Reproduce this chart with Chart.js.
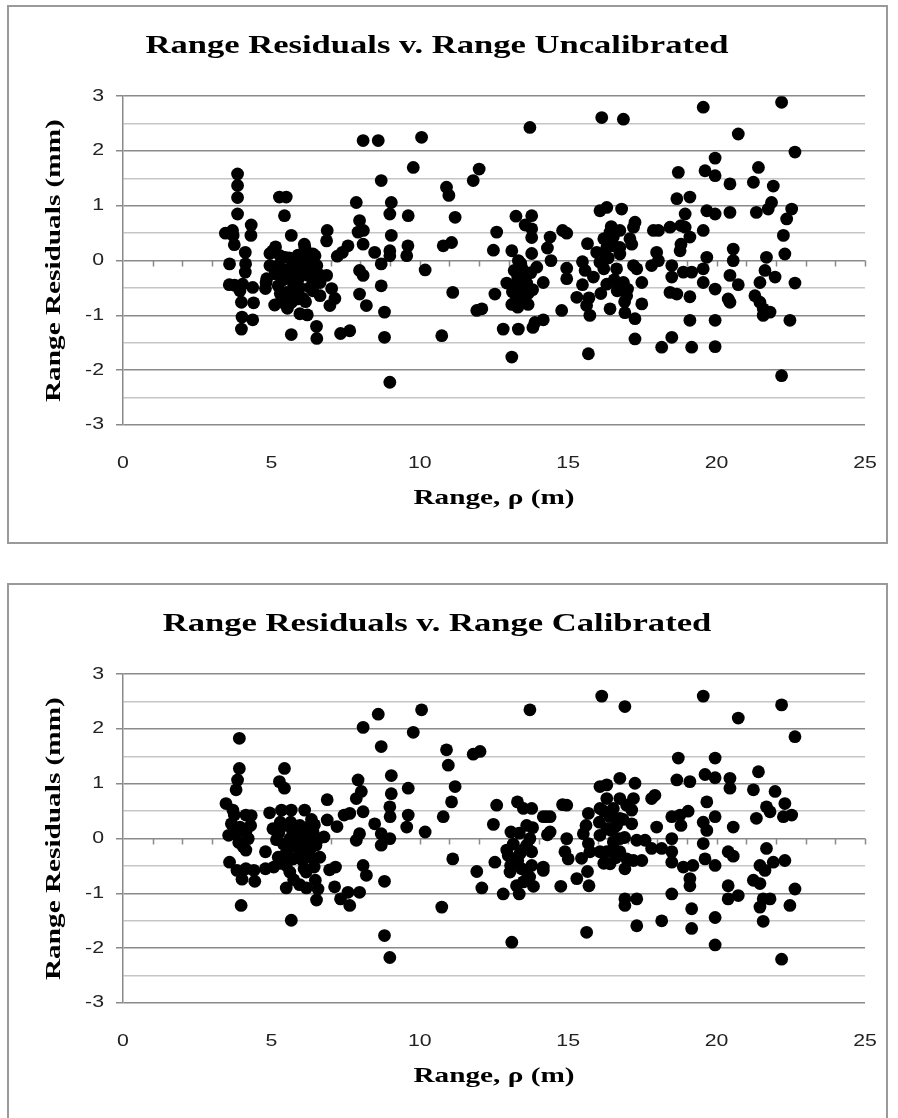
<!DOCTYPE html>
<html lang="en">
<head>
<meta charset="UTF-8">
<title>Range Residuals v. Range</title>
<script src="https://cdn.jsdelivr.net/npm/chart.js"></script>
<style>
    html, body { margin: 0; padding: 0; background: #fff; overflow: hidden; }
    body { width: 898px; height: 1118px; position: relative; }
    .box { position: absolute; left: 7px; width: 877px; height: 535px; border: 2px solid #9a9a9a; }
    #box1 { top: 5px; }
    #box2 { top: 583px; }
    canvas { display: block; }
</style>
</head>
<body>
<div class="box" id="box1"><canvas id="uncalChart" width="877" height="535"></canvas></div>
<div class="box" id="box2"><canvas id="calChart" width="877" height="535"></canvas></div>
<script>
// range (m) and residual (mm)
var uncalRange = [
    3.86, 3.86, 3.86, 3.86, 3.45, 3.69, 3.75, 3.59, 3.58, 3.76,
    4.12, 4.13, 4.12, 4.03, 3.94, 3.99, 4.01, 3.99, 4.32, 4.31,
    4.37, 4.40, 4.37, 3.71, 4.82, 4.80, 4.84, 5.11, 5.05, 5.14,
    5.27, 5.50, 5.44, 5.67, 5.67, 5.29, 4.95, 4.95, 5.12, 5.23,
    5.46, 5.51, 5.54, 5.46, 5.63, 5.80, 5.85, 5.96, 6.13, 6.19,
    6.24, 6.30, 6.47, 6.53, 6.64, 6.64, 6.86, 7.03, 7.14, 6.97,
    5.96, 6.21, 6.52, 6.53, 6.11, 6.40, 5.68, 6.07, 6.88, 6.86,
    7.22, 7.39, 7.58, 7.33, 7.64, 5.35, 5.75, 6.00, 6.35, 5.90,
    5.55, 6.05, 5.30, 6.40, 5.90, 7.86, 7.97, 7.92, 8.10, 8.09,
    7.97, 8.09, 7.97, 8.20, 8.09, 8.60, 8.70, 8.48, 8.70, 8.70,
    8.81, 8.81, 8.99, 9.04, 8.99, 9.04, 8.99, 8.99, 10.06, 9.78,
    9.61, 9.60, 9.56, 10.18, 10.90, 10.98, 11.19, 10.79, 11.07, 11.11,
    10.74, 11.80, 12.00, 12.59, 12.48, 12.53, 11.92, 12.09, 12.81, 13.10,
    13.32, 13.81, 13.88, 14.16, 13.71, 13.24, 13.77, 13.55, 13.77, 13.77,
    14.39, 14.81, 14.95, 13.10, 13.77, 14.30, 14.42, 13.32, 13.18, 12.93,
    13.12, 13.10, 13.40, 13.60, 13.74, 13.80, 14.16, 13.94, 14.95, 14.95,
    14.78, 13.30, 13.50, 13.20, 13.45, 13.65, 15.29, 15.65, 15.48, 15.57,
    15.48, 15.70, 15.62, 15.73, 15.68, 16.07, 15.96, 16.30, 16.41, 16.52,
    16.74, 16.63, 16.86, 16.97, 16.41, 16.91, 17.20, 16.07, 16.30, 16.80,
    16.18, 16.45, 16.52, 16.74, 16.30, 16.74, 17.00, 16.90, 16.13, 16.86,
    19.55, 22.19, 20.73, 22.64, 19.95, 18.71, 19.61, 19.95, 20.45, 21.24,
    21.41, 21.91, 18.66, 19.10, 18.94, 19.67, 19.95, 20.45, 21.34, 21.74,
    21.85, 22.53, 22.36, 22.25, 22.30, 22.64, 22.47, 22.19, 21.68, 21.63,
    21.97, 21.46, 21.29, 21.46, 21.57, 21.80, 21.57, 20.56, 20.56, 20.45,
    20.73, 20.39, 20.45, 19.67, 19.55, 19.55, 19.95, 19.55, 19.95, 19.95,
    19.16, 19.10, 19.10, 19.16, 18.88, 18.77, 18.80, 18.94, 18.80, 19.10,
    18.49, 18.49, 18.43, 18.66, 18.49, 18.15, 18.43, 17.98, 18.04, 17.81,
    17.87, 18.04, 17.25, 17.20, 17.14, 17.08, 17.31, 17.48, 17.48, 17.25, 17.25,
    5.20, 5.40, 5.60, 5.75, 5.95, 6.10, 6.25, 6.40, 6.60, 5.80,
    6.15, 5.35, 13.30, 13.55, 13.40, 13.65, 13.25, 15.85, 16.20, 16.55,
    16.35, 16.10, 16.65, 16.20
];
var uncalResidual = [
    1.58, 1.37, 1.15, 0.85, 0.50, 0.55, 0.29, -0.06, -0.44, -0.45,
    0.15, -0.06, -0.21, -0.43, -0.55, -0.76, -1.03, -1.25, 0.65, 0.46,
    -0.49, -0.77, -1.08, 0.46, -0.40, -0.51, -0.33, -0.81, 0.18, 0.25,
    1.16, 1.16, 0.82, 0.46, -1.35, 0.09, 0.13, -0.09, -0.24, -0.46,
    -0.79, -0.58, -0.87, 0.06, -0.15, -0.03, -0.33, -0.49, 0.24, -0.03,
    -0.27, -0.49, 0.09, -0.09, -0.40, -0.64, -0.27, -0.51, -0.69, -0.82,
    -0.97, -0.99, -1.20, -1.42, 0.30, 0.12, -0.76, -0.69, 0.55, 0.36,
    0.08, 0.15, 0.27, -1.33, -1.28, -0.15, -0.45, -0.15, -0.20, 0.10,
    -0.30, 0.05, -0.60, -0.35, -0.70, 1.06, 0.73, 0.52, 0.55, 0.30,
    -0.18, -0.27, -0.61, -0.82, 2.19, 2.19, 1.46, 0.15, -0.06, -0.46,
    -0.94, -1.40, -2.22, 1.06, 0.85, 0.46, 0.18, 0.09, 2.25, 1.70,
    0.82, 0.27, 0.09, -0.17, 1.34, 1.19, 0.79, 0.27, 0.33, -0.58,
    -1.37, 1.46, 1.67, 0.52, 0.19, -0.61, -0.91, -0.88, -1.25, -1.76,
    -1.25, -1.22, -1.13, -1.08, 2.43, 0.81, 0.82, 0.65, 0.58, 0.42,
    0.43, 0.55, 0.50, 0.18, 0.13, 0.23, 0.00, 0.00, -0.18, -0.41,
    -0.57, -0.80, -0.68, -0.41, -0.22, -0.53, -0.40, -0.12, -0.14, -0.33,
    -0.91, -0.30, -0.50, -0.45, -0.15, -0.60, -0.67, 0.31, -0.02, -0.18,
    -0.44, -0.68, -0.82, -1.00, -1.70, -0.03, 0.15, -0.43, 0.52, 0.27,
    0.12, -0.15, -0.40, -0.64, -0.88, -0.95, -0.09, 0.91, 0.97, 0.94,
    0.09, 0.62, 0.43, 0.55, 0.24, 0.24, -0.52, -0.75, 2.61, 2.58,
    2.80, 2.89, 2.31, 1.98, 1.87, 1.61, 1.64, 1.55, 1.40, 1.43,
    1.70, 1.36, 1.13, 1.16, 0.85, 0.91, 0.85, 0.88, 0.88, 0.94,
    1.06, 0.94, 0.76, 0.46, 0.12, -0.41, -1.09, -2.10, 0.06, -0.18,
    -0.30, -0.40, -0.64, -0.76, -0.88, -0.94, -1.00, 0.21, 0.00, -0.27,
    -0.44, -0.70, -0.76, 0.06, -0.15, -0.40, -0.52, 0.55, -1.09, -1.57,
    -1.58, -1.09, -0.66, -0.21, -0.21, 0.18, 0.30, 0.61, 0.64, 0.43,
    -0.09, -0.30, -0.58, -0.61, -1.40, -1.58, 0.61, 0.15, 0.00, -0.09,
    0.55, 0.55, 0.70, 0.61, 0.30, 0.40, -0.15, -0.40, -0.79, -1.06, -1.43,
    -0.10, -0.35, 0.05, -0.20, -0.30, -0.10, 0.10, -0.55, -0.25, -0.60,
    -0.75, -0.70, -0.85, -0.30, -0.05, -0.80, -0.65, -0.30, -0.15, -0.35,
    0.05, -0.60, -0.55, 0.40
];

var calRange = [
    3.92, 3.92, 3.86, 3.81, 3.47, 3.70, 3.75, 3.65, 3.56, 3.81,
    3.94, 4.14, 4.32, 4.30, 4.14, 4.22, 3.90, 4.05, 4.14, 3.59,
    3.84, 4.01, 4.14, 4.41, 4.44, 3.98, 4.94, 4.80, 4.80, 5.08,
    5.27, 5.44, 5.44, 5.34, 5.67, 6.12, 5.05, 5.17, 5.50, 5.72,
    5.95, 5.96, 6.24, 6.40, 6.50, 6.58, 6.77, 5.95, 5.73, 5.23,
    5.50, 5.62, 5.50, 5.67, 5.95, 6.18, 6.17, 6.48, 6.57, 6.52,
    6.44, 6.63, 6.30, 5.63, 6.19, 6.88, 6.88, 7.21, 6.96, 7.16,
    7.13, 7.33, 7.58, 7.64, 7.45, 7.64, 7.92, 8.03, 7.86, 8.09,
    7.97, 7.86, 8.09, 8.20, 7.97, 8.09, 8.60, 8.70, 8.48, 8.70,
    8.70, 8.81, 8.81, 8.99, 9.04, 9.04, 8.99, 9.00, 8.99, 5.30,
    5.85, 6.00, 6.30, 5.40, 5.75, 6.35, 5.55, 10.06, 13.71, 9.78,
    10.90, 10.96, 11.19, 11.07, 10.79, 9.61, 9.61, 9.56, 10.18, 10.74,
    11.11, 11.80, 12.03, 12.59, 12.48, 12.53, 11.92, 12.09, 12.81, 13.10,
    13.35, 13.29, 13.49, 13.77, 14.27, 14.81, 14.95, 13.60, 14.39, 13.07,
    13.15, 12.93, 13.38, 12.98, 13.77, 13.06, 13.43, 14.16, 13.83, 13.26,
    13.49, 13.60, 13.77, 13.71, 13.80, 13.60, 13.04, 14.16, 14.39, 14.30,
    14.16, 14.95, 14.89, 15.00, 14.75, 15.29, 15.45, 15.51, 15.68, 15.60,
    15.68, 15.73, 15.65, 15.70, 15.62, 16.07, 16.07, 16.30, 16.74, 16.30,
    16.52, 16.74, 16.52, 16.74, 16.41, 16.91, 16.91, 16.91, 16.13, 16.91,
    16.41, 16.63, 16.90, 16.52, 16.97, 16.07, 16.07, 16.97, 16.30, 16.74,
    16.52, 16.74, 16.30, 19.55, 22.19, 20.73, 22.64, 18.71, 19.95, 19.61,
    19.95, 20.45, 20.45, 21.41, 21.24, 21.97, 22.30, 21.68, 21.80, 22.25,
    22.53, 21.34, 18.66, 19.10, 18.49, 18.77, 19.04, 18.80, 19.67, 19.55,
    19.67, 19.95, 20.56, 19.55, 19.61, 19.95, 20.39, 20.56, 20.39, 20.39,
    20.73, 21.68, 21.46, 21.63, 21.91, 22.30, 21.24, 21.46, 21.57, 21.80,
    21.46, 21.57, 22.64, 22.47, 22.19, 19.95, 19.95, 19.16, 19.16, 19.10,
    19.10, 19.20, 18.88, 18.49, 18.49, 18.15, 18.49, 18.49, 18.15, 17.81,
    17.98, 17.92, 17.81, 17.48, 17.20, 17.31, 17.59, 17.31, 17.31, 17.25, 17.20, 17.14, 17.14,
    5.25, 5.45, 5.65, 5.85, 6.05, 6.25, 6.45, 6.10, 5.30, 13.30,
    13.50, 13.35, 13.70, 16.20, 16.45, 16.60, 16.20, 16.05, 16.85
];
var calResidual = [
    1.83, 1.28, 1.07, 0.89, 0.64, 0.52, 0.43, 0.27, 0.06, 0.09,
    0.21, 0.43, 0.42, 0.24, 0.12, 0.00, -0.07, -0.15, -0.21, -0.43,
    -0.58, -0.74, -0.55, -0.58, -0.78, -1.22, 0.47, -0.24, -0.55, -0.52,
    1.04, 0.92, 1.28, 0.52, 0.52, 0.52, 0.18, -0.02, 0.24, 0.12,
    0.00, 0.24, 0.21, 0.12, -0.12, 0.00, 0.03, -0.24, -0.37, -0.34,
    -0.49, -0.61, -0.90, -1.49, -0.84, -0.90, -0.61, -0.76, -0.92, -1.12,
    -0.52, -0.34, -0.34, 0.00, -0.06, 0.71, 0.34, 0.22, -0.57, -0.52,
    -0.88, -1.10, -0.98, -1.22, 0.43, 0.46, 1.07, 0.86, 0.73, 0.49,
    0.09, -0.03, -0.49, -0.67, -0.98, 2.03, 2.27, 1.68, 0.27, 0.09,
    -0.12, -0.78, -1.77, -2.17, 1.15, 0.82, 0.58, 0.40, 0.00, 0.30,
    -0.15, 0.10, -0.20, -0.10, -0.75, 0.35, -0.20, 2.35, 2.35, 1.94,
    1.62, 1.34, 0.95, 0.67, 0.40, 0.92, 0.43, 0.21, 0.12, -1.25,
    -0.37, 1.54, 1.59, 0.61, 0.26, -0.43, -0.60, -0.90, -1.01, -1.89,
    -1.01, 0.67, 0.55, 0.55, 0.40, 0.62, 0.61, 0.24, 0.12, 0.12,
    -0.10, -0.21, -0.27, -0.31, -0.24, -0.49, -0.55, -0.52, -0.87, -0.86,
    -0.79, -0.61, -0.49, 0.00, 0.20, -0.12, -0.61, 0.40, 0.40, 0.07,
    -0.58, 0.00, -0.24, -0.37, -0.87, -0.73, -0.36, 0.09, 0.46, 0.24,
    -0.09, -0.24, -0.60, -0.86, -1.71, 0.55, 0.95, 0.98, 1.10, 0.73,
    0.55, 0.73, 0.18, 0.00, -0.46, -0.55, -1.10, -1.22, 2.60, 2.41,
    0.40, 0.24, 0.02, -0.18, -0.37, -0.24, 0.06, 0.61, 0.18, 0.37,
    -0.06, -0.24, -0.24, 2.60, 2.44, 2.20, 1.86, 1.47, 1.47, 1.17,
    1.11, 1.10, 0.92, 1.22, 0.89, 0.86, 0.64, 0.58, 0.49, 0.40,
    0.43, 0.37, 1.07, 1.04, 0.40, 0.43, 0.50, 0.24, 0.67, 0.30,
    0.15, 0.40, 0.21, -0.09, -0.37, -0.49, -0.24, -0.32, -0.86, -1.10,
    -1.04, -0.18, -0.49, -0.58, -0.43, -0.40, -0.76, -0.82, -1.10, -1.10,
    -1.25, -1.51, -0.92, -1.22, -2.20, -1.44, -1.94, -1.28, -1.64, -0.86,
    -0.73, -0.49, -0.52, -0.43, -1.01, -1.50, -0.24, 0.00, -0.18, -0.18,
    0.21, 0.79, 0.73, -0.40, -0.40, -0.03, -0.03, -1.10, -1.59, 1.01, 0.73, 0.52, 0.27,
    0.10, -0.30, 0.30, 0.15, -0.40, 0.00, 0.25, -0.55, -0.45, -0.40,
    -0.20, 0.10, -0.70, 0.50, 0.15, -0.35, -0.45, 0.30, 0.35
];

var xTickStep = 5;
var yTickStep = 0.5;
var xMin = 0, xMax = 25, yMin = -3, yMax = 3;

var serif = "'Liberation Serif', 'Times New Roman', serif";
var sans = "'Liberation Sans', Arial, sans-serif";
var majorGrid = "#8a8a8a";
var minorGrid = "#c6c6c6";

// the source text is drawn wide; stretch every label along its own baseline
var textStretch = {
    id: "textStretch",
    beforeDraw: function (chart) {
        var ctx = chart.ctx;
        if (ctx._stretched) return;
        var plain = ctx.fillText.bind(ctx);
        ctx.fillText = function (text, x, y) {
            ctx.save();
            ctx.translate(x, y);
            ctx.scale(1.33, 1);
            plain(text, 0, 0);
            ctx.restore();
        };
        ctx._stretched = true;
    }
};

// small tick marks hanging off the zero line, one per metre
var zeroLineTicks = {
    id: "zeroLineTicks",
    beforeDatasetsDraw: function (chart) {
        var ctx = chart.ctx;
        var xs = chart.scales.x, ys = chart.scales.y;
        var y0 = ys.getPixelForValue(0);
        ctx.save();
        ctx.strokeStyle = majorGrid;
        ctx.lineWidth = 1.5;
        ctx.beginPath();
        for (var m = 1; m <= xMax; m++) {
            var px = Math.round(xs.getPixelForValue(m)) + 0.5;
            ctx.moveTo(px, y0);
            ctx.lineTo(px, y0 + 6);
        }
        ctx.stroke();
        ctx.restore();
    }
};

function makeChart(canvasId, titleText, xs, ys) {
    var points = xs.map(function (x, i) { return { x: x, y: ys[i] }; });
    return new Chart(document.getElementById(canvasId), {
        type: "scatter",
        data: {
            datasets: [{
                data: points,
                backgroundColor: "#000000",
                borderColor: "#000000",
                borderWidth: 0,
                pointRadius: 6.4,
                pointHoverRadius: 6.4
            }]
        },
        options: {
            responsive: false,
            animation: false,
            events: [],
            layout: { padding: { top: 0, right: 21, bottom: 0, left: 0 } },
            plugins: {
                legend: { display: false },
                tooltip: { enabled: false },
                title: {
                    display: true,
                    text: titleText,
                    color: "#000000",
                    font: { family: serif, size: 26, weight: "bold" },
                    padding: { top: 24, bottom: 34 }
                }
            },
            scales: {
                x: {
                    type: "linear",
                    min: xMin,
                    max: xMax,
                    grid: { display: false, drawTicks: false },
                    border: { display: false },
                    ticks: {
                        stepSize: xTickStep,
                        padding: 29,
                        color: "#222222",
                        font: { family: sans, size: 16 }
                    },
                    title: {
                        display: true,
                        text: "Range, \u03c1 (m)",
                        color: "#000000",
                        font: { family: serif, size: 22, weight: "bold" },
                        padding: { top: 0, bottom: 30 }
                    },
                    afterFit: function (s) {
                        s.height = 117;
                        s.paddingLeft = 0;
                        s.paddingRight = 0;
                    }
                },
                y: {
                    type: "linear",
                    min: yMin,
                    max: yMax,
                    ticks: {
                        stepSize: yTickStep,
                        padding: 12,
                        color: "#222222",
                        font: { family: sans, size: 16 },
                        callback: function (v) { return Number.isInteger(v) ? v : ""; }
                    },
                    grid: {
                        lineWidth: 1.5,
                        tickLength: 7,
                        color: function (c) { return Number.isInteger(c.tick.value) ? majorGrid : minorGrid; },
                        tickColor: function (c) { return Number.isInteger(c.tick.value) ? majorGrid : "rgba(0,0,0,0)"; }
                    },
                    border: { display: true, color: majorGrid, width: 1.5 },
                    title: {
                        display: true,
                        text: "Range Residuals (mm)",
                        color: "#000000",
                        font: { family: serif, size: 22, weight: "bold" },
                        padding: { top: 32, bottom: 0 }
                    },
                    afterFit: function (s) { s.width = 114; }
                }
            }
        },
        plugins: [textStretch, zeroLineTicks]
    });
}

makeChart("uncalChart", "Range Residuals v. Range Uncalibrated", uncalRange, uncalResidual);
makeChart("calChart", "Range Residuals v. Range Calibrated", calRange, calResidual);
</script>
</body>
</html>
